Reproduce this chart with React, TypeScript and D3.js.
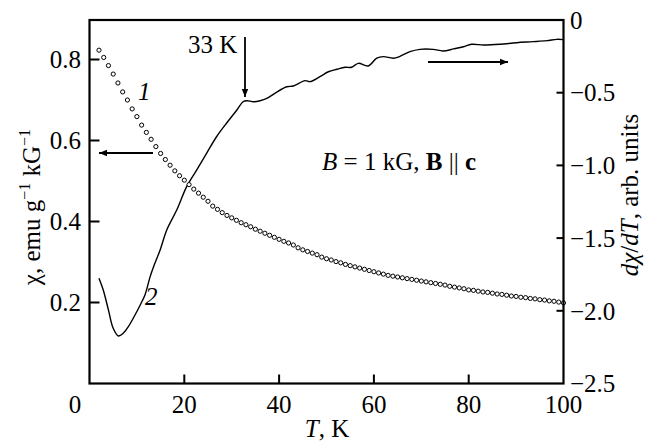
import React from "react";
import * as d3 from "d3";

const chiT = d3.range(2, 101);
const chiValues = [
  0.823, 0.805, 0.785, 0.764, 0.742, 0.720, 0.700, 0.678, 0.659, 0.638,
  0.620, 0.603, 0.585, 0.568, 0.553, 0.539, 0.525, 0.513, 0.502, 0.491,
  0.480, 0.470, 0.460, 0.450, 0.438, 0.430, 0.422, 0.415, 0.409, 0.403,
  0.397, 0.392, 0.387, 0.381, 0.376, 0.371, 0.366, 0.361, 0.356, 0.351,
  0.347, 0.342, 0.335, 0.330, 0.326, 0.322, 0.318, 0.312, 0.308, 0.305,
  0.301, 0.298, 0.294, 0.291, 0.288, 0.285, 0.282, 0.279, 0.276, 0.273,
  0.270, 0.267, 0.265, 0.263, 0.261, 0.259, 0.257, 0.255, 0.253, 0.251,
  0.249, 0.247, 0.245, 0.243, 0.240, 0.238, 0.236, 0.234, 0.231, 0.230,
  0.228, 0.226, 0.225, 0.223, 0.221, 0.220, 0.218, 0.216, 0.215, 0.213,
  0.212, 0.210, 0.209, 0.207, 0.206, 0.204, 0.203, 0.201, 0.199,
];

const derivT = [
  2.0, 2.9, 4.0, 5.0, 6.1, 7.1, 8.2, 9.6, 10.7, 11.7, 12.8, 13.8, 14.9, 16.3,
  18.4, 20.5, 22.6, 24.7, 26.8, 28.9, 31.1, 32.4, 33.2, 34.6, 36.0, 37.4, 39.1,
  41.6, 43.0, 45.5, 46.5, 48.6, 50.4, 52.2, 53.9, 55.3, 56.7, 58.8, 60.6, 62.0,
  64.1, 65.5, 67.6, 69.7, 72.5, 74.6, 76.8, 78.9, 80.6, 83.1, 86.6, 90.1, 93.6,
  96.5, 98.6, 100,
];
const derivValues = [
  -1.776, -1.857, -1.995, -2.12, -2.173, -2.155, -2.109, -2.029, -1.96, -1.891,
  -1.765, -1.673, -1.582, -1.444, -1.307, -1.146, -1.032, -0.917, -0.803, -0.71,
  -0.619, -0.562, -0.555, -0.562, -0.555, -0.539, -0.504, -0.459, -0.454, -0.417,
  -0.424, -0.39, -0.356, -0.339, -0.325, -0.325, -0.298, -0.316, -0.263, -0.252,
  -0.263, -0.25, -0.218, -0.202, -0.202, -0.213, -0.199, -0.184, -0.167, -0.172,
  -0.167, -0.156, -0.149, -0.142, -0.133, -0.135,
];

const xTicks = [0, 20, 40, 60, 80, 100];
const leftTicks = [0.2, 0.4, 0.6, 0.8];
const rightTicks = [0, -0.5, -1.0, -1.5, -2.0, -2.5];

const W = 652;
const H = 443;
const L = 89.5;
const R = 563.5;
const T = 20;
const B = 383.5;
const FONT = "'Liberation Serif', 'Times New Roman', serif";
const FS = 25;

export default function App() {
  const x = d3.scaleLinear().domain([0, 100]).range([L, R]);
  const yL = d3.scaleLinear().domain([0, 0.8]).range([B, 59.5]);
  const yR = d3.scaleLinear().domain([-2.5, 0]).range([B, T]);

  const derivPts: [number, number][] = derivT.map((t, i) => [t, derivValues[i]]);
  const line = d3
    .line<[number, number]>()
    .x((d) => x(d[0]))
    .y((d) => yR(d[1]))
    .curve(d3.curveCatmullRom.alpha(0.5));

  const fmtR = (v: number) =>
    v === 0 ? "0" : "\u2212" + Math.abs(v).toFixed(1);

  return (
    <svg
      width={W}
      height={H}
      style={{ position: "absolute", left: 0, top: 0, background: "#fff" }}
      fontFamily={FONT}
    >
      <defs>
        <marker id="ah" viewBox="0 0 10 10" refX="10" refY="5" markerWidth="10" markerHeight="8" markerUnits="userSpaceOnUse" orient="auto">
          <path d="M0,1 L10,5 L0,9 Z" fill="#000" />
        </marker>
      </defs>
      <rect x={0} y={0} width={W} height={H} fill="#fff" />

      {/* derivative line */}
      <path d={line(derivPts) || ""} fill="none" stroke="#000" strokeWidth={1.4} />

      {/* chi circles */}
      {chiT.map((t, i) => (
        <circle key={t} cx={x(t)} cy={yL(chiValues[i])} r={2.1} fill="#fff" stroke="#000" strokeWidth={1} />
      ))}

      {/* frame */}
      <rect x={L} y={T} width={R - L} height={B - T} fill="none" stroke="#000" strokeWidth={2.2} />

      {/* bottom ticks */}
      {xTicks.slice(1, -1).map((t) => (
        <line key={t} x1={x(t)} x2={x(t)} y1={B} y2={B - 9} stroke="#000" strokeWidth={2} />
      ))}
      {xTicks.map((t) => (
        <text key={t} x={t === 0 ? 75 : x(t)} y={413} fontSize={FS} textAnchor="middle">
          {t}
        </text>
      ))}

      {/* left ticks */}
      {leftTicks.map((v) => (
        <g key={v}>
          <line x1={L} x2={L + 10} y1={yL(v)} y2={yL(v)} stroke="#000" strokeWidth={2} />
          <text x={81} y={yL(v)} dy="0.35em" fontSize={FS} textAnchor="end">
            {v.toFixed(1)}
          </text>
        </g>
      ))}

      {/* right ticks */}
      {rightTicks.map((v) => (
        <g key={v}>
          {v !== 0 && v !== -2.5 && (
            <line x1={R - 7} x2={R} y1={yR(v)} y2={yR(v)} stroke="#000" strokeWidth={2} />
          )}
          <text x={570} y={yR(v)} dy="0.35em" fontSize={FS} textAnchor="start">
            {fmtR(v)}
          </text>
        </g>
      ))}

      {/* axis titles */}
      <text x={327} y={437} fontSize={FS} textAnchor="middle">
        <tspan fontStyle="italic">T</tspan>, K
      </text>
      <text transform="translate(40,207) rotate(-90)" fontSize={FS} textAnchor="middle">
        χ, emu g<tspan fontSize={16} dy={-10}>−1</tspan>
        <tspan dy={10}> kG</tspan>
        <tspan fontSize={16} dy={-10}>−1</tspan>
      </text>
      <text transform="translate(638,195) rotate(-90)" fontSize={FS} textAnchor="middle">
        <tspan fontStyle="italic">dχ</tspan>/<tspan fontStyle="italic">dT</tspan>, arb. units
      </text>

      {/* annotations */}
      <text x={188} y={53} fontSize={FS}>33 K</text>
      <line x1={245} x2={245} y1={37} y2={97} stroke="#000" strokeWidth={1.8} markerEnd="url(#ah)" />

      <line x1={153} x2={99} y1={153} y2={153} stroke="#000" strokeWidth={1.8} markerEnd="url(#ah)" />
      <line x1={428} x2={508} y1={62} y2={62} stroke="#000" strokeWidth={1.8} markerEnd="url(#ah)" />

      <text x={138} y={100} fontSize={FS} fontStyle="italic">1</text>
      <text x={145} y={305} fontSize={FS} fontStyle="italic">2</text>

      <text x={322} y={170} fontSize={FS}>
        <tspan fontStyle="italic">B</tspan> = 1 kG, <tspan fontWeight="bold">B</tspan> || <tspan fontWeight="bold">c</tspan>
      </text>
    </svg>
  );
}
